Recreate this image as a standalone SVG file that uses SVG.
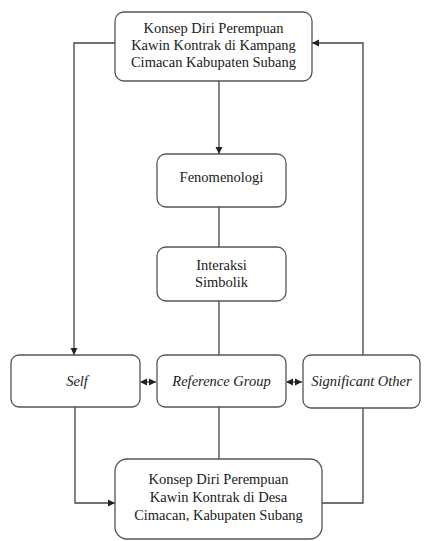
<svg xmlns="http://www.w3.org/2000/svg" width="428" height="541" viewBox="0 0 428 541">
<style>
.box{fill:#fff;stroke:#555;stroke-width:1.3}
.t{font-family:'Liberation Serif','Times New Roman',serif;font-size:14.5px;fill:#1a1a1a;text-anchor:middle}
.i{font-style:italic}
.c{fill:none;stroke:#444;stroke-width:1.3}
</style>
<defs>
<marker id="ah" markerWidth="8" markerHeight="8" refX="7" refY="4" orient="auto" markerUnits="userSpaceOnUse">
<path d="M0,0.5 L7,4 L0,7.5 Z" fill="#222"/>
</marker>
<marker id="as" markerWidth="8" markerHeight="8" refX="1" refY="4" orient="auto" markerUnits="userSpaceOnUse">
<path d="M7,0.5 L0,4 L7,7.5 Z" fill="#222"/>
</marker>
</defs>
<rect width="428" height="541" fill="#fff"/>
<g id="connectors">
<path class="c" d="M219,81 V154" marker-end="url(#ah)"/>
<path class="c" d="M219,207 V247"/>
<path class="c" d="M219,301 V355"/>
<path class="c" d="M219,407 V459"/>
<path class="c" d="M115,43 H74 V355" marker-end="url(#ah)"/>
<path class="c" d="M75,407 V503 H115" marker-end="url(#ah)"/>
<path class="c" d="M363,355 V43 H312" marker-end="url(#ah)"/>
<path class="c" d="M363,408 V503 H322"/>
<path class="c" d="M141,382 H156" marker-start="url(#as)" marker-end="url(#ah)"/>
<path class="c" d="M287,382 H302" marker-start="url(#as)" marker-end="url(#ah)"/>
</g>
<g id="node-top">
<rect class="box" x="115" y="12" width="197" height="69" rx="9"/>
<text class="t" x="213.5" y="33">Konsep Diri Perempuan</text>
<text class="t" x="213.5" y="50">Kawin Kontrak di Kampang</text>
<text class="t" x="213.5" y="67">Cimacan Kabupaten Subang</text>
</g>
<g id="node-fenomenologi">
<rect class="box" x="157" y="154" width="129" height="53" rx="9"/>
<text class="t" x="221.5" y="182">Fenomenologi</text>
</g>
<g id="node-interaksi">
<rect class="box" x="157" y="247" width="129" height="54" rx="9"/>
<text class="t" x="221.5" y="270">Interaksi</text>
<text class="t" x="221.5" y="287">Simbolik</text>
</g>
<g id="node-self">
<rect class="box" x="11" y="355" width="129" height="52" rx="8"/>
<text class="t i" x="77" y="386">Self</text>
</g>
<g id="node-reference">
<rect class="box" x="157" y="355" width="129" height="52" rx="8"/>
<text class="t i" x="221.5" y="386">Reference Group</text>
</g>
<g id="node-significant">
<rect class="box" x="303" y="355" width="117" height="53" rx="8"/>
<text class="t i" x="361.5" y="386">Significant Other</text>
</g>
<g id="node-bottom">
<rect class="box" x="115" y="459" width="207" height="80" rx="12"/>
<text class="t" x="218.5" y="484">Konsep Diri Perempuan</text>
<text class="t" x="218.5" y="502">Kawin Kontrak di Desa</text>
<text class="t" x="218.5" y="520">Cimacan, Kabupaten Subang</text>
</g>
</svg>
